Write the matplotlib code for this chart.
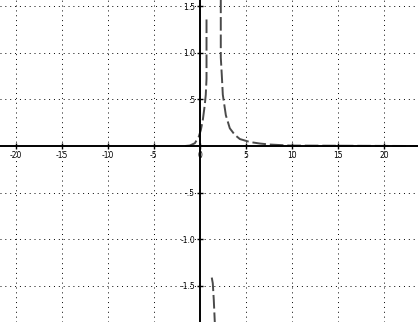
import matplotlib.pyplot as plt

# tick positions and labels (Maple style)
x_ticks = [-20, -15, -10, -5, 0, 5, 10, 15, 20]
x_labels = ["-20", "-15", "-10", "-5", "0", "5", "10", "15", "20"]
y_ticks = [-1.5, -1.0, -0.5, 0.5, 1.0, 1.5]
y_labels = ["-1.5", "-1.0", "-.5", ".5", "1.0", "1.5"]

# curve pieces
left_x = [-1.63, -1.09, -0.54, -0.11, 0.11, 0.33, 0.54, 0.65, 0.73, 0.73]
left_y = [0.0, 0.005, 0.03, 0.10, 0.17, 0.28, 0.44, 0.55, 0.72, 1.39]
neg_x = [1.30, 1.41, 1.52, 1.63]
neg_y = [-1.41, -1.47, -1.65, -1.89]
right_x = [2.28, 2.28, 2.39, 2.50, 2.83, 3.26, 3.80, 4.35, 5.43, 6.5, 7.6, 9.8, 23.7]
right_y = [1.57, 0.95, 0.76, 0.55, 0.33, 0.19, 0.12, 0.075, 0.043, 0.027, 0.016, 0.005, 0.0]

fig = plt.figure(figsize=(4.18, 3.22), dpi=100)
ax = fig.add_axes([0, 0, 1, 1])
ax.set_xlim(-21.7, 23.7)
ax.set_ylim(-1.886, 1.565)

# sparse dotted grid
for xv in x_ticks:
    if xv != 0:
        ax.axvline(xv, color="black", lw=0.7, ls=(0, (1, 4)), zorder=1)
for yv in y_ticks:
    ax.axhline(yv, color="black", lw=0.7, ls=(0, (1, 4)), zorder=1)

line_kw = dict(color="#4a4a4a", lw=1.4, ls=(0, (7, 2)), zorder=3)
ax.plot(left_x, left_y, **line_kw)
ax.plot(neg_x, neg_y, **line_kw)
ax.plot(right_x, right_y, **line_kw)

# axes crossing at the origin
for s in ["top", "right"]:
    ax.spines[s].set_visible(False)
ax.spines["left"].set_position(("data", 0))
ax.spines["bottom"].set_position(("data", 0))
ax.spines["left"].set_linewidth(1.4)
ax.spines["bottom"].set_linewidth(1.4)
ax.spines["left"].set_zorder(4)
ax.spines["bottom"].set_zorder(4)

ax.set_xticks(x_ticks)
ax.set_xticklabels(x_labels)
ax.set_yticks(y_ticks)
ax.set_yticklabels(y_labels)
ax.tick_params(direction="inout", length=5, width=1, labelsize=5.5, pad=1)

fig.savefig("out.png", dpi=100)
